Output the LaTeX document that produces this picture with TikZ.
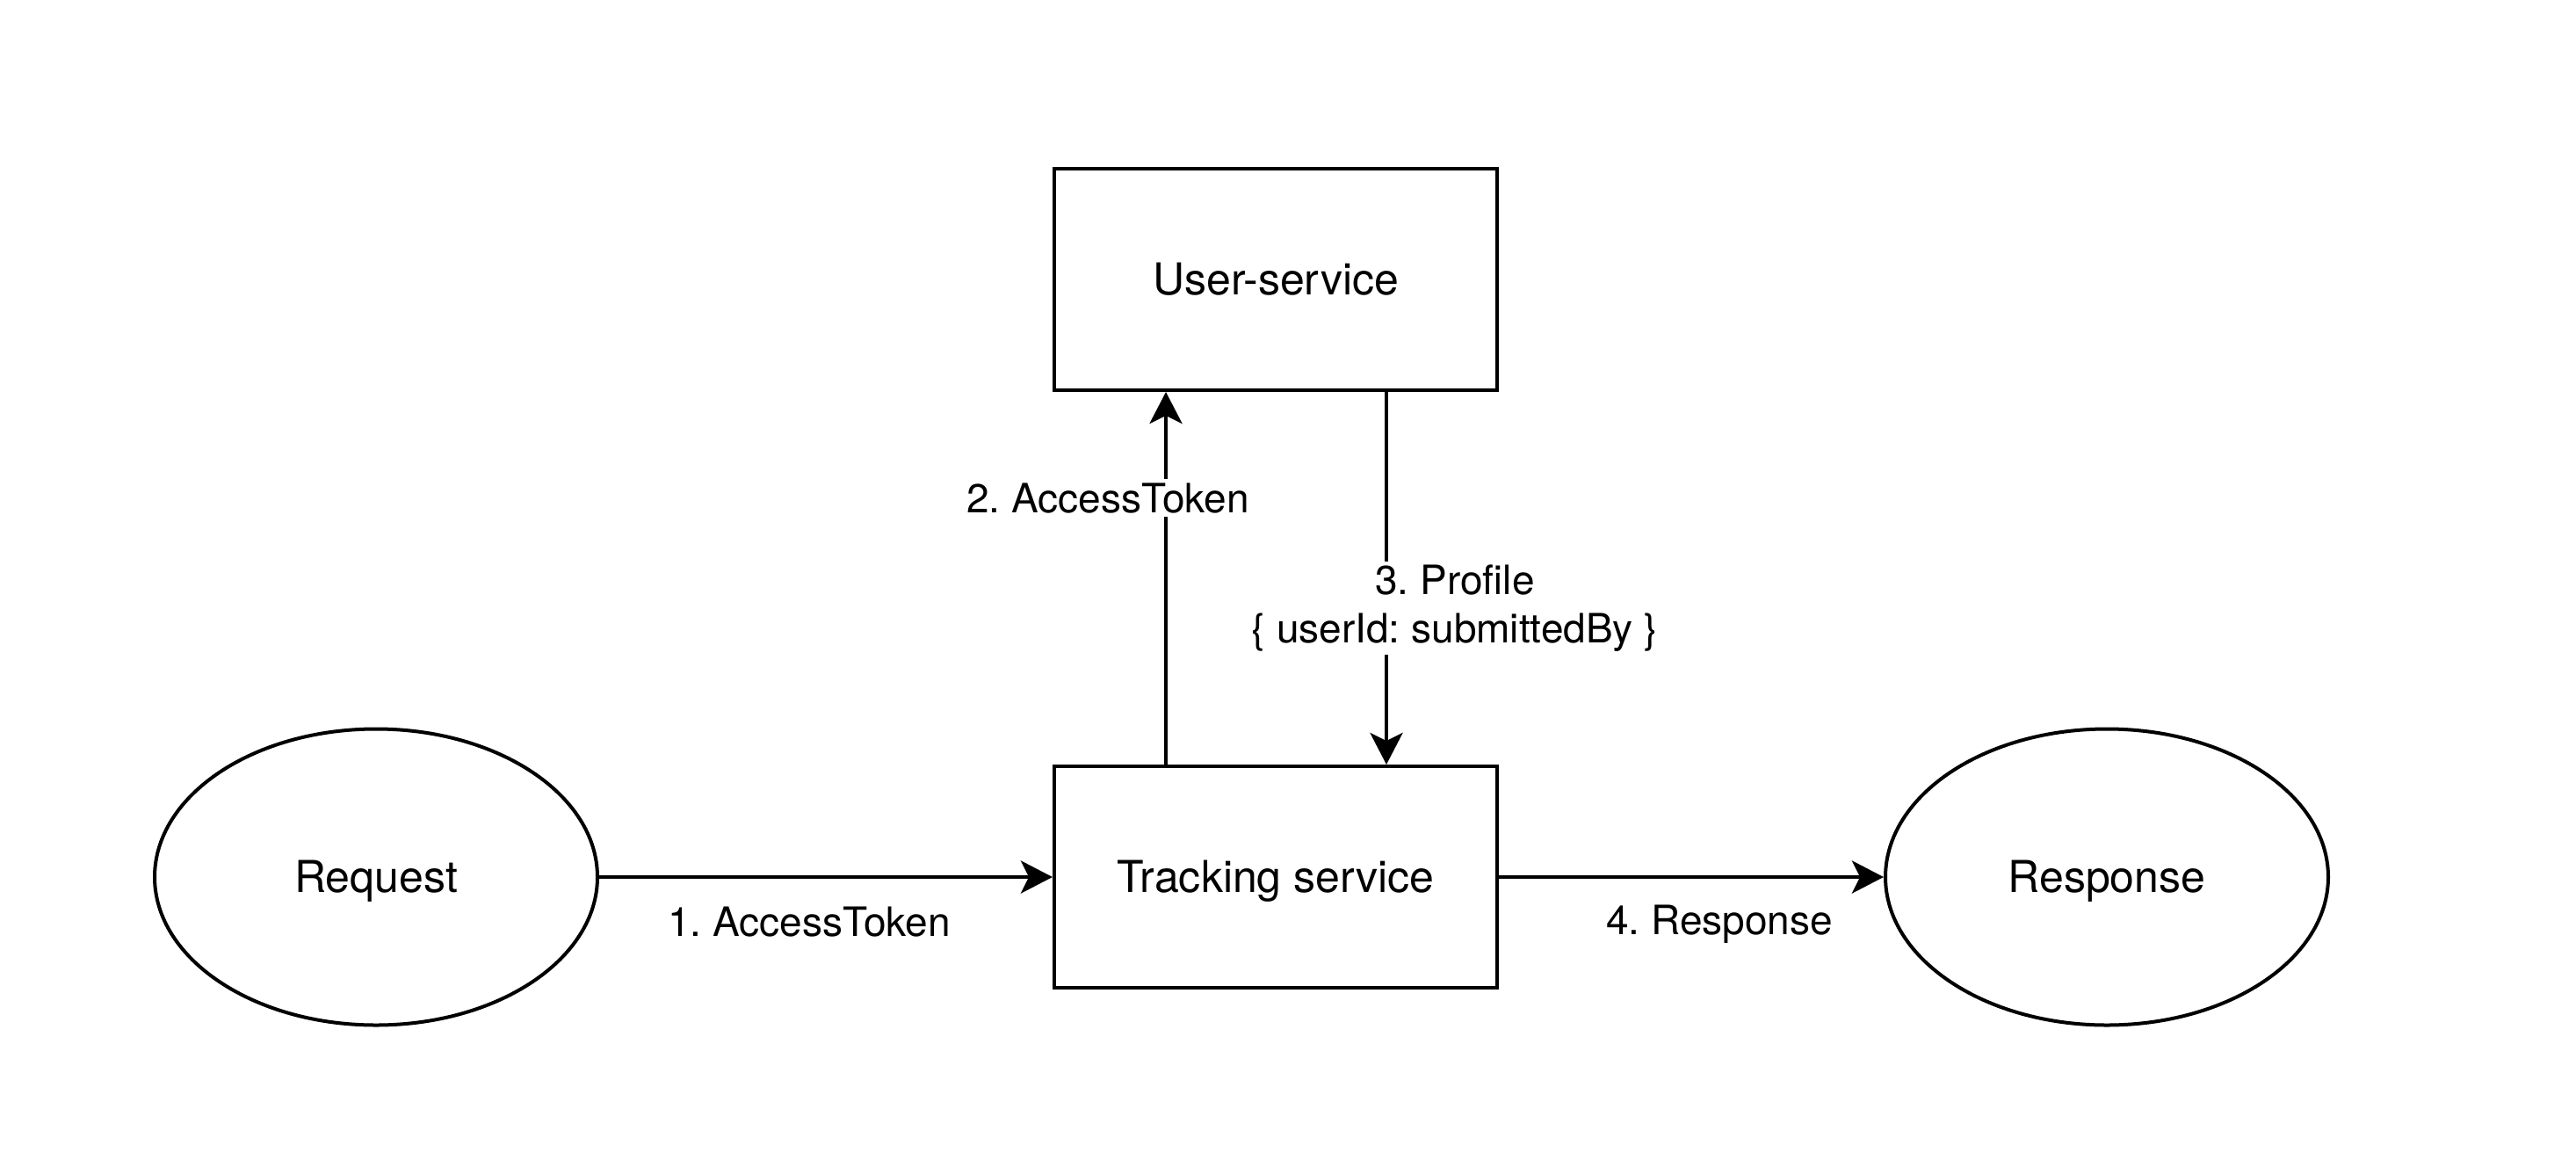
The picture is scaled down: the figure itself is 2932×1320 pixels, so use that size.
\documentclass[tikz,border=0pt]{standalone}
\usepackage{fontspec}
\setmainfont{TeX Gyre Heros}
\usetikzlibrary{shapes.geometric,arrows.meta}
\frenchspacing
\begin{document}
\begin{tikzpicture}[x=1pt,y=-1pt,
  every node/.style={font=\fontsize{50}{60}\selectfont},
  lw/.style={line width=4pt},
  svcbox/.style={draw, lw, minimum width=504pt, minimum height=252pt, inner sep=0pt, text height=35.8pt, text depth=0pt},
  endpoint/.style={draw, lw, ellipse, minimum width=504pt, minimum height=337pt, inner sep=0pt, text height=35.8pt, text depth=0pt},
  conn/.style={lw, -{Stealth[length=36pt,width=37pt,inset=9pt]}},
  lbl/.style={font=\fontsize{46}{55}\selectfont, fill=white, inner sep=4pt, align=center}
]
\useasboundingbox[fill=white] (0,0) rectangle (2932,1320);
\node[svcbox] (user) at (1452,318) {User-service};
\node[svcbox] (track) at (1452,998) {Tracking service};
\node[endpoint] (req) at (428,998) {Request};
\node[endpoint] (resp) at (2398,998) {Response};
\draw[conn] (req.east) -- (track.west);
\draw[conn] (track.east) -- (resp.west);
\draw[conn] ([xshift=-125pt]track.north) -- ([xshift=-125pt]user.south);
\draw[conn] ([xshift=126pt]user.south) -- ([xshift=126pt]track.north);
\node[lbl, anchor=base] (l1) at (921,1065) {1.\ AccessToken};
\node[lbl, anchor=base] (l2) at (1261,583) {2.\ AccessToken};
\node[lbl] (l3) at (1656,692) {3.\ Profile\\\{ userId: submittedBy \}};
\node[lbl, anchor=base] (l4) at (1957,1063) {4.\ Response};
\end{tikzpicture}
\end{document}
